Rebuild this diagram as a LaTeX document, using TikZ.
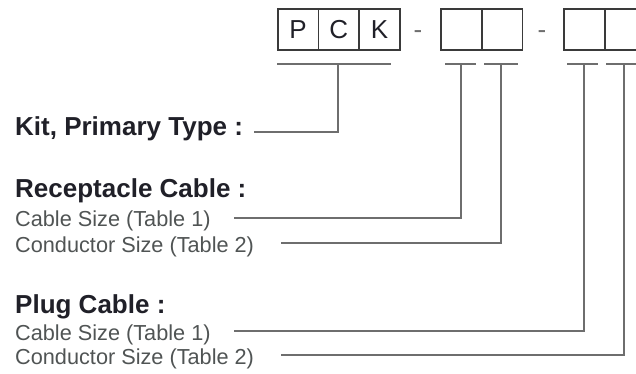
\documentclass[tikz,border=0pt]{standalone}
\usepackage{fontspec}
\setmainfont{Liberation Sans}
\definecolor{boxline}{HTML}{3A3A3A}
\definecolor{leadline}{HTML}{6E6E6E}
\definecolor{headtext}{HTML}{202028}
\definecolor{subtext}{HTML}{505454}
\begin{document}
\begin{tikzpicture}[x=1pt,y=-1pt,
    cell/.style={draw=boxline,line width=1.6pt,minimum width=40.7pt,
      minimum height=41pt,inner sep=0pt,anchor=north west,
      font=\fontsize{26}{26}\selectfont,text=headtext},
    head/.style={anchor=base west,inner sep=0pt,
      font=\fontsize{26}{26}\selectfont\bfseries,text=headtext},
    sub/.style={anchor=base west,inner sep=0pt,
      font=\fontsize{21.7}{22}\selectfont,text=subtext},
    dashmark/.style={anchor=base,inner sep=0pt,text=leadline,
      font=\fontsize{26}{26}\selectfont},
    lead/.style={draw=leadline,line width=1.5pt},
    bar/.style={draw=leadline,line width=2pt}]
  \useasboundingbox (0,0) rectangle (636,374);
  % code boxes
  \node[cell] (p) at (277,8) {P};
  \node[cell] (c) at (317.7,8) {C};
  \node[cell] (k) at (358.3,8) {K};
  \node[dashmark] (dash1) at (418,39) {-};
  \node[cell] (rsize) at (440,8) {};
  \node[cell] (rcond) at (481,8) {};
  \node[dashmark] (dash2) at (542,39) {-};
  \node[cell] (psize) at (563,8) {};
  \node[cell] (pcond) at (604,8) {};
  % bars under the boxes
  \draw[bar] (277,64) -- (391,64);
  \draw[bar] (445,64) -- (476,64);
  \draw[bar] (484,64) -- (518,64);
  \draw[bar] (567,64) -- (598,64);
  \draw[bar] (606,64) -- (640,64);
  \coordinate (tkit) at (338,64);
  \coordinate (trsize) at (461,64);
  \coordinate (trcond) at (501,64);
  \coordinate (tpsize) at (584,64);
  \coordinate (tpcond) at (624,64);
  % labels
  \node[head] (kit) at (15,136) {Kit, Primary Type :};
  \node[head] (recep) at (15,197) {Receptacle Cable :};
  \node[sub] (recsize) at (15,226) {Cable Size (Table 1)};
  \node[sub] (reccond) at (15,252) {Conductor Size (Table 2)};
  \node[head] (plug) at (15,313) {Plug Cable :};
  \node[sub] (plgsize) at (15,340) {Cable Size (Table 1)};
  \node[sub] (plgcond) at (15,364) {Conductor Size (Table 2)};
  \coordinate (skit) at (254,132);
  \coordinate (srsize) at (234,218);
  \coordinate (srcond) at (281,243);
  \coordinate (spsize) at (234,331);
  \coordinate (spcond) at (281,355);
  % leader lines
  \begin{scope}[lead]
    \draw (skit) -| (tkit);
    \draw (srsize) -| (trsize);
    \draw (srcond) -| (trcond);
    \draw (spsize) -| (tpsize);
    \draw (spcond) -| (tpcond);
  \end{scope}
\end{tikzpicture}
\end{document}
